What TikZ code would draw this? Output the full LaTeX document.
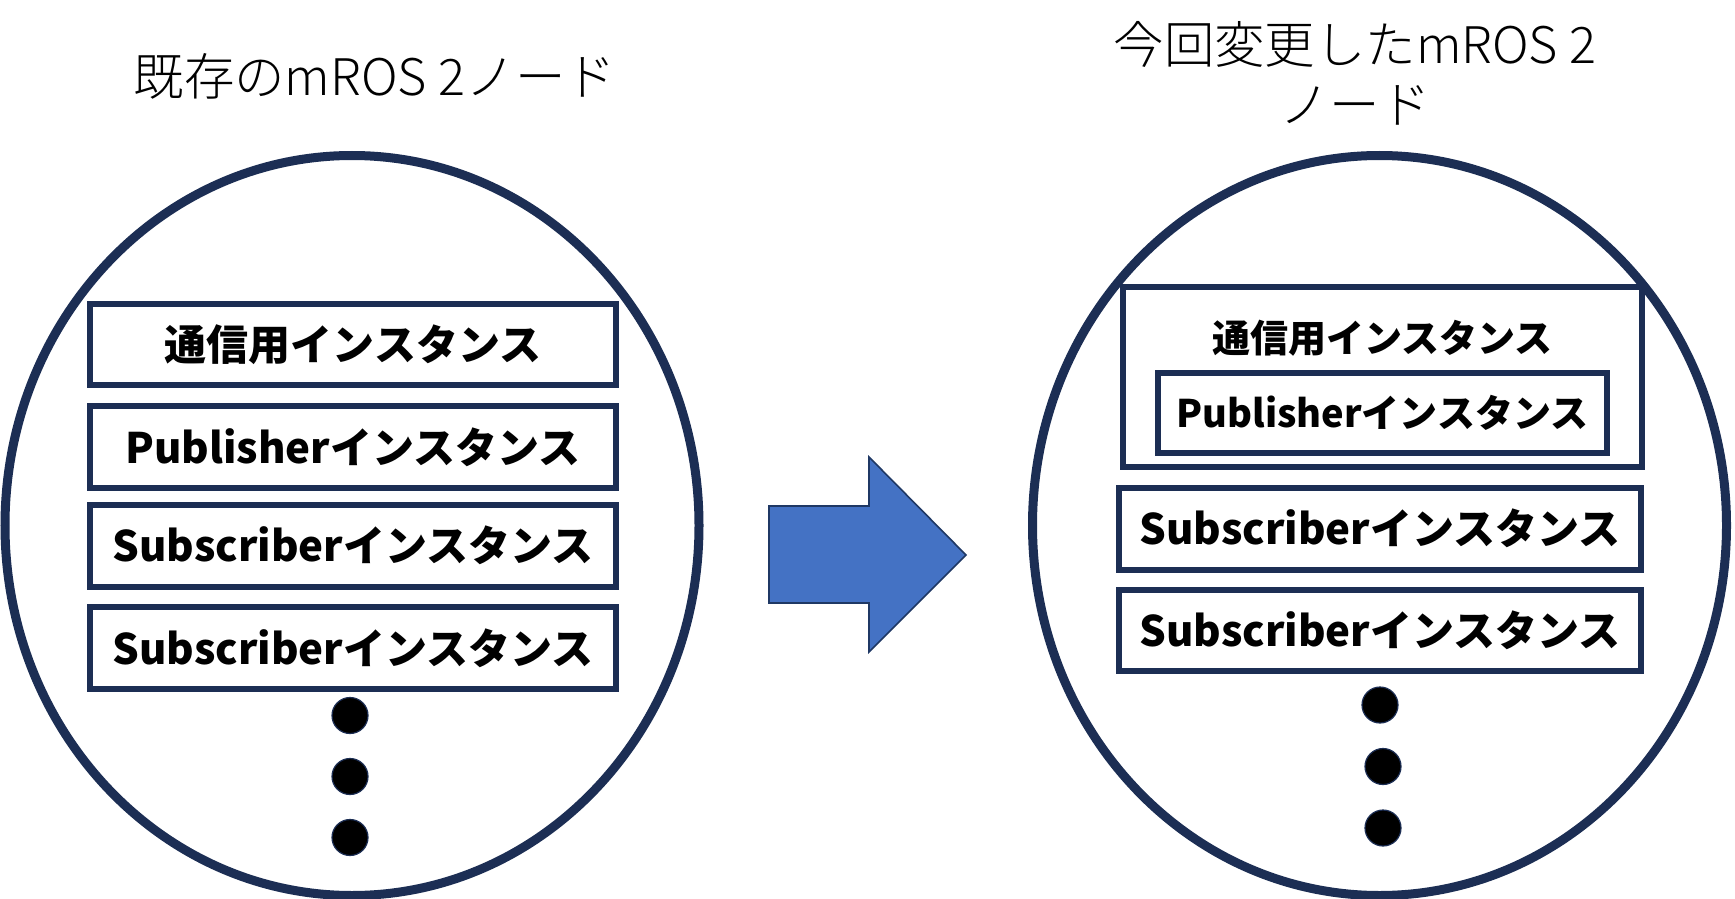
\documentclass[tikz,border=0pt]{standalone}
\usepackage{fontspec}
\newfontfamily\jpfont{Noto Sans CJK JP}
\IfFontExistsTF{Noto Sans CJK JP Light}
  {\newfontfamily\jplight{Noto Sans CJK JP Light}}
  {\newfontfamily\jplight{Noto Sans CJK JP}}
\usetikzlibrary{shapes.geometric}
\definecolor{navy}{HTML}{1C2E54}
\definecolor{arrowblue}{HTML}{4472C4}
\definecolor{arrowedge}{HTML}{1F3864}
\tikzset{
  nodecircle/.style={draw=navy, line width=4.5pt, ellipse, fill=white, inner sep=0pt,
    minimum width=347pt, minimum height=370pt},
  instbox/.style={draw=navy, line width=3pt, rectangle, inner sep=0pt, fill=white,
    font=\jpfont\bfseries\fontsize{21pt}{25pt}\selectfont},
  smallbox/.style={instbox, font=\jpfont\bfseries\fontsize{19pt}{23pt}\selectfont},
  titletext/.style={font=\jplight\fontsize{25.2pt}{30pt}\selectfont, align=center, inner sep=0pt},
  dotmark/.style={circle, fill=black, draw=navy, line width=0.6pt, minimum size=18pt, inner sep=0pt},
}
\begin{document}
\begin{tikzpicture}[x=0.5pt,y=-0.5pt]
\useasboundingbox (0,0) rectangle (1735,899);
% titles
\node[titletext] (titleL) at (375,76) {既存のmROS 2ノード};
\node[titletext] (titleR) at (1355,73) {今回変更したmROS 2\\ノード};
% big circles
\node[nodecircle] (circL) at (352,525.5) {};
\node[nodecircle] (circR) at (1379.5,525.5) {};
% left boxes
\node[instbox, minimum width=263.25pt, minimum height=40.5pt] (l1) at (353,344.5) {通信用インスタンス};
\node[instbox, minimum width=263.25pt, minimum height=41pt] (l2) at (353,447) {Publisherインスタンス};
\node[instbox, minimum width=263.25pt, minimum height=41pt] (l3) at (353,545.5) {Subscriberインスタンス};
\node[instbox, minimum width=263.25pt, minimum height=41.25pt] (l4) at (353,648) {Subscriberインスタンス};
% left dots
\node[dotmark] (ld1) at (350,715.5) {};
\node[dotmark] (ld2) at (350,776.5) {};
\node[dotmark] (ld3) at (350,837.5) {};
% arrow
\path[fill=arrowblue, draw=arrowedge, line width=0.8pt, line join=miter]
  (769,506) -- (869,506) -- (869,457) -- (966,555) -- (869,652) -- (869,603) -- (769,603) -- cycle;
% right boxes
\node[instbox, minimum width=259.5pt, minimum height=90pt] (rcomm) at (1382.5,377) {};
\node[smallbox, fill=none, draw=none, inner sep=0pt] (rcommtext) at (1382.5,338) {通信用インスタンス};
\node[smallbox, minimum width=224.5pt, minimum height=40pt] (rpub) at (1382.5,413) {Publisherインスタンス};
\node[instbox, minimum width=261.25pt, minimum height=40.75pt] (r3) at (1380,528.75) {Subscriberインスタンス};
\node[instbox, minimum width=261.25pt, minimum height=40.5pt] (r4) at (1380,630.5) {Subscriberインスタンス};
% right dots
\node[dotmark] (rd1) at (1380,705) {};
\node[dotmark] (rd2) at (1383,766.5) {};
\node[dotmark] (rd3) at (1383,828) {};
\end{tikzpicture}
\end{document}
